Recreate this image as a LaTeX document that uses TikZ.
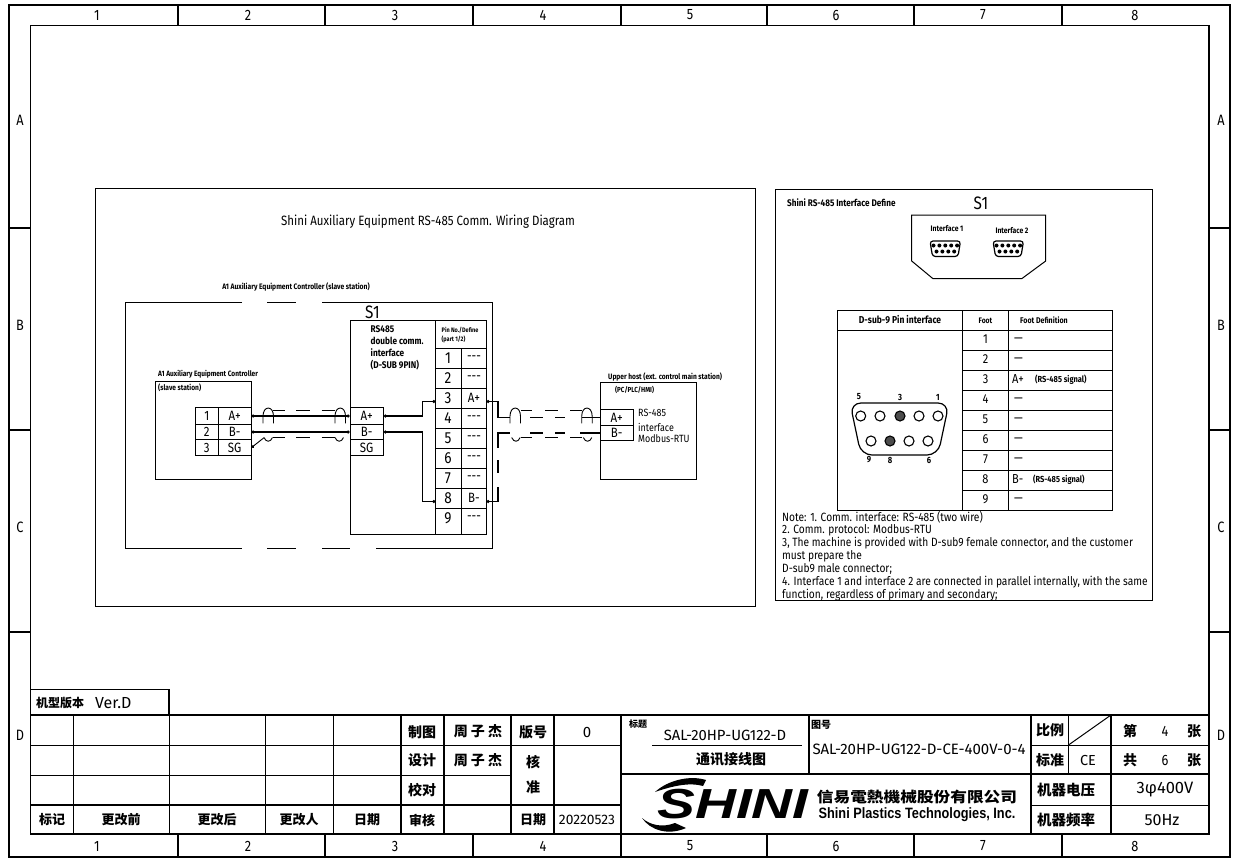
\documentclass[tikz,border=0pt]{standalone}
\usepackage{fontspec}
\setmainfont{Fira Sans}[FakeStretch=0.85]
\newfontfamily\widefont{Fira Sans}
\newfontfamily\cjk{Noto Sans CJK SC}
\newfontfamily\cjkwide{Noto Sans CJK SC}[FakeStretch=1.15]
\newfontfamily\logofont{Liberation Sans}
\newfontfamily\logosans{Liberation Sans}[FakeStretch=0.85]
\usetikzlibrary{positioning,arrows.meta}
\tikzset{
txt/.style={font=\fontsize{#1}{#1}\selectfont, inner sep=0pt},
btxt/.style={font=\fontsize{#1}{#1}\selectfont\bfseries, inner sep=0pt},
wtxt/.style={font=\widefont\fontsize{#1}{#1}\selectfont, inner sep=0pt},
hz/.style={font=\cjk\fontsize{#1}{#1}\selectfont\bfseries, inner sep=0pt},
frame/.style={line width=1.5pt},
panel/.style={line width=1pt},
cell/.style={draw, line width=1pt, inner sep=0pt, font=\fontsize{13.5}{13.5}\selectfont},
pin/.style={inner sep=0pt, minimum width=25, minimum height=20, font=\fontsize{16}{16}\selectfont},
wire/.style={line width=1.2pt},
dotted wire/.style={wire, {Circle[length=3pt]}-{Circle[length=3pt]}},
shield/.style={line width=.9pt},
shield top/.pic={\draw[shield] (0,15) -- (0,8) .. controls (0,-3) and (10.5,-3) .. (10.5,8) -- (10.5,15);},
shield bot/.pic={\draw[shield] (0,0) .. controls (2,5) and (6.5,5) .. (8.5,0);},
dsub small/.pic={
\draw[line width=1.2pt, rounded corners=3] (0,0) -- (30.5,0) -- (28,15.5) -- (2.5,15.5) -- cycle;
\foreach \i in {0,...,4} \fill (3.5+\i*5.9,4.5) circle (2);
\foreach \i in {0,...,3} \fill (6.5+\i*5.9,10.5) circle (2);
}
}
\begin{document}
\begin{tikzpicture}[x=1pt,y=-1pt]
\useasboundingbox (0,0) rectangle (1235,860);
% drawing frame
\draw[frame] (9,5) rectangle (1230,857);
\draw[frame] (30.5,25.5) rectangle (1209,834);
\foreach \x in {178,325,473,621,767,914,1062}{
\draw[frame] (\x,5) -- (\x,25.5);
\draw[frame] (\x,834) -- (\x,857);
}
\foreach \y in {228,430,632}{
\draw[frame] (9,\y) -- (30.5,\y);
\draw[frame] (1209,\y) -- (1230,\y);
}
\foreach \x/\n in {97/1,248/2,395/3,543/4,690/5,836/6,983/7,1135/8}{
\node[txt=15] (top\n) at (\x,15) {\n};
\node[txt=15] (bot\n) at (\x,846) {\n};
}
\foreach \y/\n in {120/A,325/B,527/C,735/D}{
\node[txt=15] (left\n) at (20,\y) {\n};
\node[txt=15] (right\n) at (1221,\y) {\n};
}
% wiring panel
\draw[panel] (95,188) rectangle (755,606);
\node[txt=13.5] (wiringtitle) at (428,222) {Shini Auxiliary Equipment RS-485 Comm. Wiring Diagram};
\node[btxt=7.9] (a1title) at (296,287) {A1 Auxiliary Equipment Controller (slave station)};
% A1 outline
\draw[panel] (242,302.5) -- (125.5,302.5) -- (125.5,548.3) -- (242,548.3);
\draw[panel] (376,548.3) -- (492,548.3) -- (492,302.5) -- (322,302.5);
\draw[panel] (267,302.5) -- (296,302.5);
\draw[panel] (267,548.3) -- (296,548.3);
\draw[panel] (322,548.3) -- (350,548.3);
% S1
\node[txt=18] (s1left) at (372.5,312) {S1};
\draw[panel, fill=white] (350,320) rectangle (486.7,534);
\draw[panel] (435,320) -- (435,534);
\draw[panel] (461.3,348) -- (461.3,534);
\foreach \y in {348,368,388,408,428,448,468,488,508}
\draw[panel] (435,\y) -- (486.7,\y);
\foreach \y/\t [count=\i] in {329/RS485,340.7/double comm.,352.7/interface,365/(D-SUB 9PIN)}
\node[btxt=9.7, anchor=west] (rsline\i) at (370.5,\y) {\t};
\node[btxt=6.5, anchor=west] (pinhead1) at (441.5,330.7) {Pin No./Define};
\node[btxt=6.5, anchor=west] (pinhead2) at (441.5,339.3) {(part 1/2)};
\foreach \n/\t in {1/-{}-{}-,2/-{}-{}-,3/A+,4/-{}-{}-,5/-{}-{}-,6/-{}-{}-,7/-{}-{}-,8/B-,9/-{}-{}-}{
\node[pin] (pinL\n) at (448,338+\n*20) {\n};
\node[pin, font=\fontsize{13.5}{13.5}\selectfont] (pinR\n) at (474,338+\n*20) {\t};
}
\foreach \n/\t/\y/\h in {A/A+/416/17,B/B-/432/15,S/SG/447.5/16}{
\node[cell, minimum width=33.3, minimum height=\h] (mid\n) at (366.7,\y) {\t};
\node[cell, minimum width=32.7, minimum height=\h] (ctrl\n) at (234.7,\y) {\t};
}
\foreach \n/\y/\h in {1/416/17,2/432/15,3/447.5/16}
\node[cell, minimum width=23, minimum height=\h] (ctrlnum\n) at (206.8,\y) {\n};
% A1 controller
\node[btxt=7.7, anchor=west] (ctrltitle) at (158,374.7) {A1 Auxiliary Equipment Controller};
\draw[panel] (155,381.7) rectangle (251,479);
\node[btxt=7.8, anchor=west] (ctrlslave) at (158,388) {(slave station)};
% upper host
\node[btxt=7.8, anchor=west] (hosttitle) at (608,377) {Upper host (ext. control main station)};
\draw[panel] (600,382.3) rectangle (696.7,479);
\node[btxt=7.3, anchor=west] (hostsub) at (615,390) {(PC/PLC/HMI)};
\node[cell, minimum width=33.3, minimum height=16.5] (hostA) at (616.7,417.6) {A+};
\node[cell, minimum width=33.3, minimum height=15] (hostB) at (616.7,433) {B-};
\foreach \y/\t [count=\i] in {413/RS-485,427/interface,439/Modbus-RTU}
\node[txt=10.5, anchor=west] (hostline\i) at (638,\y) {\t};
% wires
\draw[dotted wire] (ctrlA.east) -- (midA.west);
\draw[dotted wire] (ctrlB.east) -- (midB.west);
\coordinate (sgend) at (264,437.7);
\draw[shield, {Circle[length=3pt]}-] (ctrlS.east) -- (sgend);
\draw[dotted wire] (midA.east) -- ++(38.4,0) |- ([yshift=-3.5pt]pinL3.west);
\draw[dotted wire] (midB.east) -- ++(38.4,0) |- ([yshift=-3.5pt]pinL8.west);
\coordinate (jA) at (498,417.6);
\coordinate (jB) at (498,433);
\coordinate (jC) at (498,501.5);
\draw[wire, {Circle[length=3pt]}-] ([yshift=-3.5pt]pinR3.east) -| (jA);
\draw[wire, {Circle[length=3pt]}-] ([yshift=-3.5pt]pinR8.east) -| (jC);
\draw[wire, dash pattern=on 18 off 17 on 10 off 12 on 13 off 20 on 12] (hostA.west) -- (jA);
\draw[wire, dash pattern=on 20 off 15 on 10 off 12 on 13 off 20 on 27 off 12 on 13 off 14 on 15] (hostB.west) -- (jB) -- (jC);
% shields
\foreach \x in {263,335,510,581.7}
\pic at (\x,408.3) {shield top};
\foreach \x in {264,335,511.7,583.3}
\pic at (\x,437.5) {shield bot};
\foreach \a/\b in {272.7/285,296/310,321.7/335,521/532,545/558,570/582}{
\draw[shield] (\a,410.7) -- (\b,410.7);
\draw[shield] (\a,437.5) -- (\b,437.5);
}
% interface panel
\draw[panel] (775,189) rectangle (1152.7,600.5);
\node[btxt=9.6, anchor=west] (definetitle) at (787,203) {Shini RS-485 Interface Define};
\node[txt=18] (s1right) at (981,203) {S1};
\draw[panel] (911.7,215) -- (1045.7,215) -- (1045.7,261) -- (1021.7,278.7) -- (933,278.7) -- (911.7,261) -- cycle;
\node[btxt=8] (iface1) at (947,229) {Interface 1};
\node[btxt=8] (iface2) at (1012,231) {Interface 2};
\pic at (930,241) {dsub small};
\pic at (993,241) {dsub small};
% pin table
\draw[panel] (837.7,310) rectangle (1112.7,510);
\draw[panel] (837.7,330) -- (1112.7,330);
\draw[panel] (962.7,310) -- (962.7,510);
\draw[panel] (1008.3,310) -- (1008.3,510);
\foreach \y in {350,370,...,490}
\draw[panel] (962.7,\y) -- (1112.7,\y);
\node[btxt=10] (subhead) at (900,320) {D-sub-9 Pin interface};
\node[btxt=8] (foothead) at (985.5,320.5) {Foot};
\node[btxt=8.3, anchor=west] (defhead) at (1020,320) {Foot Definition};
\foreach \n in {1,...,9}
\node[txt=13] (foot\n) at (985.5,319+\n*20) {\n};
\foreach \n in {1,2,4,5,6,7,9}
\node[txt=13, anchor=west] (dash\n) at (1014,320.5+\n*20) {---};
\node[txt=13, anchor=west] (defA) at (1012,379) {A+};
\node[btxt=8.8, anchor=west] (defAs) at (1035,379.5) {(RS-485 signal)};
\node[txt=13, anchor=west] (defB) at (1012,479) {B-};
\node[btxt=8.8, anchor=west] (defBs) at (1033,479.5) {(RS-485 signal)};
% D-sub 9 face
\draw[line width=1.2pt, rounded corners=11] (850,403) -- (949,403) -- (938,455) -- (861,455) -- cycle;
\foreach \x/\c in {860.7/white,880/white,900/black!70,919/white,938/white}
\draw[line width=1.1pt, fill=\c] (\x,416) circle (5);
\foreach \x/\c in {871/white,890/black!70,909/white,928/white}
\draw[line width=1.1pt, fill=\c] (\x,441) circle (5);
\foreach \x/\n in {859/5,900/3,938/1}
\node[btxt=9] (face\n) at (\x,397) {\n};
\foreach \x/\n in {869/9,890/8,929/6}
\node[btxt=9] (face\n) at (\x,460) {\n};
% notes
\foreach \y/\t [count=\i] in {517.3/Note: 1. Comm. interface: RS-485 (two wire),530/2. Comm. protocol: Modbus-RTU,543.3/{3, The machine is provided with D-sub9 female connector, and the customer},556/must prepare the,569/D-sub9 male connector;,581.7/{4. Interface 1 and interface 2 are connected in parallel internally, with the same},595/{function, regardless of primary and secondary;}}
\node[txt=12, anchor=west] (note\i) at (782,\y) {\t};
% title block
\draw[frame] (30.5,689.3) -- (169,689.3) -- (169,715);
\draw[frame] (30.5,715) -- (1209,715);
\draw[frame] (30.5,805) -- (621,805);
\foreach \y in {745,775}{
\draw[panel] (30.5,\y) -- (511,\y);
}
\draw[panel] (511,745) -- (621,745);
\foreach \x in {73,169,265,333}
\draw[panel] (\x,715) -- (\x,834);
\foreach \x in {401,444,511,554,621}
\draw[frame] (\x,715) -- (\x,834);
\draw[frame] (621,774) -- (1209,774);
\draw[frame] (809,715) -- (809,774);
\draw[frame] (1031,715) -- (1031,834);
\draw[frame] (1111,715) -- (1111,834);
\draw[panel] (1068.5,715) -- (1068.5,774);
\draw[panel] (1031,745) -- (1209,745);
\draw[panel] (1031,805) -- (1209,805);
\draw[panel] (1068.5,745) -- (1111,715);
\draw[panel] (652,745) -- (802,745);
\node[hz=12, anchor=west] (vertitle) at (36,703) {机型版本};
\node[wtxt=16, anchor=west] (verval) at (95,703) {Ver.D};
\foreach \x/\t [count=\i] in {52/标记,121/更改前,217/更改后,299/更改人,367/日期,422/审核,533/日期}
\node[hz=13] (foothz\i) at (\x,820) {\t};
\node[wtxt=13.8] (dateval) at (587,820) {20220523};
\node[hz=14] (zhitu) at (422,732) {制图};
\node[hz=14] (sheji) at (422,760) {设计};
\node[hz=14] (jiaodui) at (422,790) {校对};
\node[hz=14] (zname1) at (478,731) {周 子 杰};
\node[hz=14] (zname2) at (478,760) {周 子 杰};
\node[hz=14] (banhao) at (533,732) {版号};
\node[wtxt=15] (banval) at (587,732) {0};
\node[hz=14] (he) at (533,762) {核};
\node[hz=14] (zhun) at (533,787) {准};
\node[hz=9] (biaoti) at (638,724) {标题};
\node[wtxt=14.8] (model) at (725,735) {SAL-20HP-UG122-D};
\node[hz=14] (tongxun) at (731,759) {通讯接线图};
\node[hz=10] (tuhao) at (821,725) {图号};
\node[wtxt=15] (drawingno) at (919,749) {SAL-20HP-UG122-D-CE-400V-0-4};
\node[hz=14] (bili) at (1050,730) {比例};
\node[hz=14] (biaozhun) at (1050,760) {标准};
\node[wtxt=14.5] (ce) at (1088,760) {CE};
\foreach \y/\a/\b/\c in {731/第/4/张,760/共/6/张}{
\node[hz=14] (sheet\a) at (1130,\y) {\a};
\node[txt=15] (sheetn\a) at (1165,\y) {\b};
\node[hz=14] (zhang\a) at (1194,\y) {\c};
}
\node[hz=14.5] (voltage) at (1066,790) {机器电压};
\node[wtxt=16.5] (voltval) at (1165,790) {3φ400V};
\node[hz=14.5] (freq) at (1066,820) {机器频率};
\node[wtxt=16] (freqval) at (1162,820) {50Hz};
% logo
\fill (655,792) .. controls (668,780) and (690,775) .. (706,780) -- (703,786) .. controls (690,782) and (672,786) .. cycle;
\fill (642,818) .. controls (650,830) and (668,836) .. (686,828) -- (675,823) .. controls (662,828) and (650,825) .. cycle;
\node[inner sep=0pt, xscale=1.35, font=\logofont\fontsize{42}{42}\selectfont\bfseries\itshape] (logotext) at (733,804) {SHINI};
\node[inner sep=0pt, font=\cjkwide\fontsize{14.5}{14.5}\selectfont\bfseries] (companycn) at (917,797) {信易電熱機械股份有限公司};
\node[inner sep=0pt, font=\logosans\fontsize{15}{15}\selectfont\bfseries] (companyen) at (917,815) {Shini Plastics Technologies, Inc.};
\end{tikzpicture}
\end{document}
